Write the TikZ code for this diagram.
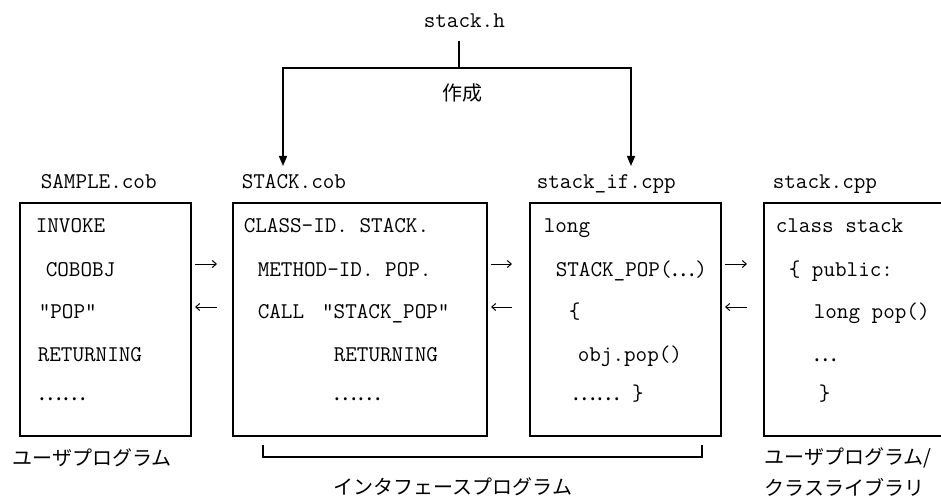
\documentclass[tikz,border=0pt]{standalone}
\usepackage{fontspec}
\newfontfamily\jpfont{Noto Sans CJK JP}
\newfontfamily\dotfont{Noto Sans CJK JP}[RawFeature=+fwid]
\usetikzlibrary{arrows.meta,calc,positioning}

\begin{document}
\begin{tikzpicture}[x=1pt,y=-1pt,line width=1.5pt,
  srcbox/.style={draw,minimum width=#1,minimum height=233pt,anchor=north west,outer sep=0pt,inner sep=0pt},
  code/.style={anchor=base west,inner sep=0pt,font=\ttfamily\fontsize{22.5}{24}\selectfont},
  jp/.style={anchor=west,inner sep=0pt,font=\jpfont\fontsize{20}{22}\selectfont},
  gen/.style={-{Triangle[length=10pt,width=8pt]}},
  flow/.style={-{Straight Barb[length=4pt,width=7pt]},line width=1pt}]
\clip (0,0) rectangle (941,497);
% source boxes
\node[srcbox=171pt] (sample) at (20,203) {};
\node[srcbox=254pt] (cob) at (233,203) {};
\node[srcbox=191pt] (cpp) at (530,203) {};
\node[srcbox=200pt] (lib) at (764,203) {};
\node[code] (samplename) at (40,189) {SAMPLE.cob};
\node[code] (cobname) at (241,189) {STACK.cob};
\node[code] (cppname) at (536,189) {stack\_if.cpp};
\node[code] (libname) at (772,189) {stack.cpp};
% header and generation
\node[code] (hdr) at (423,28) {stack.h};
\coordinate (split) at (459,68);
\coordinate (cobin) at (283,166);
\coordinate (cppin) at (631,166);
\draw ($(hdr.south -| split)+(0,12)$) -- (split);
\draw[gen] (split) -| (cobin);
\draw[gen] (split) -| (cppin);
\node[jp] (made) at (442,93) {作成};
% SAMPLE.cob
\node[code] (s1) at (35,232) {INVOKE};
\node[code] (s2) at (45,276) {COBOBJ};
\node[code] (s3) at (38,318) {”POP”};
\node[code] (s4) at (37,361) {RETURNING};
\node[code] (s5) at (38,400) {\dotfont ……};
% STACK.cob
\node[code] (c1) at (243,232) {CLASS-ID. STACK.};
\node[code] (c2) at (257,276) {METHOD-ID. POP.};
\node[code] (c3) at (257,318) {CALL\hspace{18pt}”STACK\_POP”};
\node[code] (c4) at (333,361) {RETURNING};
\node[code] (c5) at (333,400) {\dotfont ……};
% stack_if.cpp
\node[code] (i1) at (543,232) {long};
\node[code] (i2) at (555,276) {STACK\_POP({\dotfont …})};
\node[code] (i3) at (568,318) {\{};
\node[code] (i4) at (577,361) {obj.pop()};
\node[code] (i5) at (572,400) {{\dotfont ……} \}};
% stack.cpp
\node[code] (l1) at (775,232) {class stack};
\node[code] (l2) at (788,276) {\{ public:};
\node[code] (l3) at (813,318) {long pop()};
\node[code] (l4) at (813,361) {\dotfont …};
\node[code] (l5) at (818,400) {\}};
% calls and returns
\draw[flow,shorten <=4pt,shorten >=16pt] ([yshift=55.5pt]sample.east) -- ([yshift=55.5pt]cob.west);
\draw[flow,shorten <=16pt,shorten >=4pt] ([yshift=12.5pt]cob.west) -- ([yshift=12.5pt]sample.east);
\draw[flow,shorten <=4pt,shorten >=18pt] ([yshift=55.5pt]cob.east) -- ([yshift=55.5pt]cpp.west);
\draw[flow,shorten <=18pt,shorten >=4pt] ([yshift=12.5pt]cpp.west) -- ([yshift=12.5pt]cob.east);
\draw[flow,shorten <=4pt,shorten >=17pt] ([yshift=55.5pt]cpp.east) -- ([yshift=55.5pt]lib.west);
\draw[flow,shorten <=17pt,shorten >=4pt] ([yshift=12.5pt]lib.west) -- ([yshift=12.5pt]cpp.east);
% roles
\coordinate (brl) at (263,445);
\coordinate (brr) at (702,445);
\draw (brl) -- ++(0,12) -| (brr);
\node[jp] (userrole) at (12,458) {ユーザプログラム};
\node[jp] (ifrole) at (333,487) {インタフェースプログラム};
\node[jp] (librole) at (764,458) {ユーザプログラム/};
\node[jp] (librole2) at (764,487) {クラスライブラリ};
\end{tikzpicture}
\end{document}
